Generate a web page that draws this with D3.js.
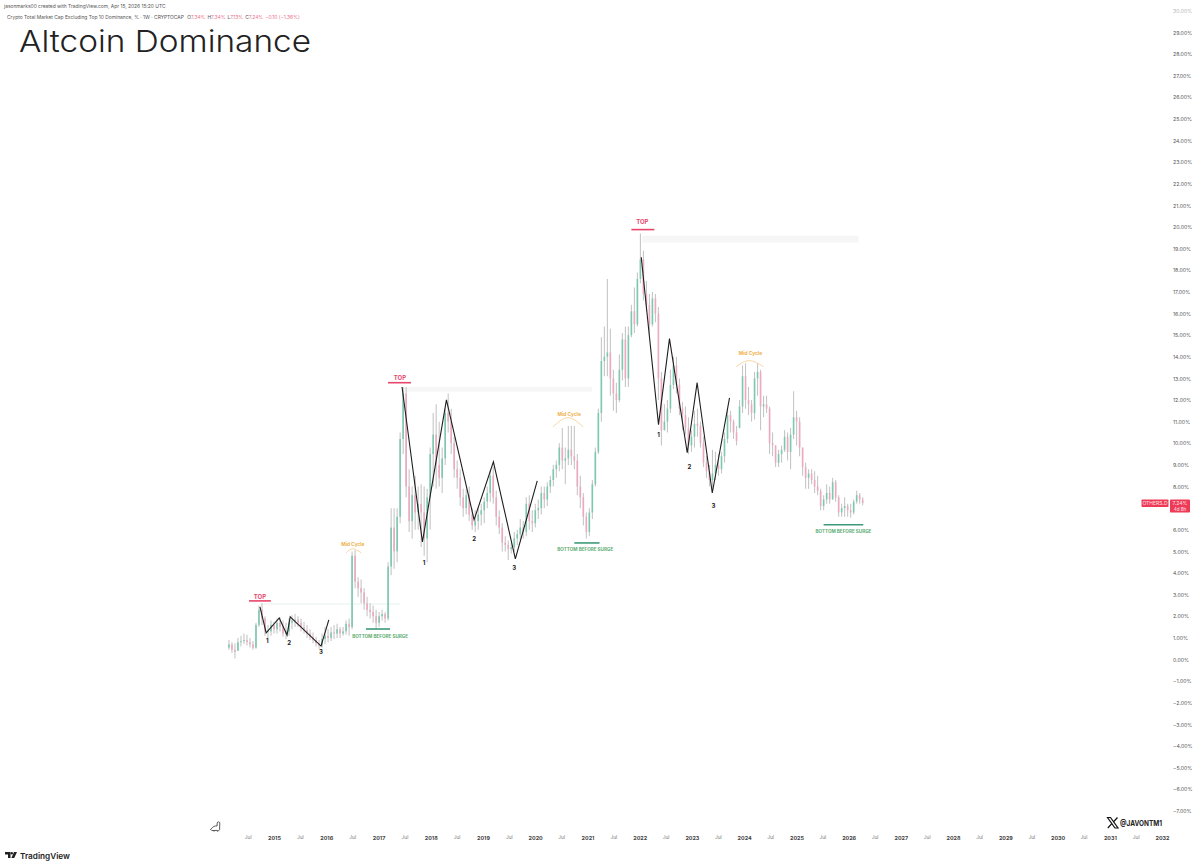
<!DOCTYPE html>
<html lang="en">
<head>
    <meta charset="UTF-8">
    <script src="https://cdnjs.cloudflare.com/ajax/libs/d3/7.8.5/d3.min.js"></script>
    <style>
        html, body { margin: 0; background: #fff; }
        svg { display: block; font-family: Inter, "Noto Sans", sans-serif; }
    </style>
</head>
<body>
    <svg id="chart" width="1200" height="868"></svg>
    <script>
        // one candle per three weeks (% dominance)
        let candleStart = "2014-02-20";
        let candleHighs = [
            0.9, 0.8, 0.75, 1.0, 1.1, 1.2, 1.15, 1.0, 0.85, 1.7,
            2.5, 2.6, 2.0, 1.6, 1.8, 1.75, 1.9, 1.95, 1.8, 1.7,
            1.9, 2.05, 2.1, 2.0, 1.9, 1.75, 1.6, 1.4, 1.25, 1.05,
            0.9, 1.2, 1.5, 1.4, 1.5, 1.6, 1.65, 1.5, 1.5, 1.8,
            1.9, 5.0, 5.05, 3.8, 3.7, 3.3, 2.9, 2.6, 2.5, 2.3,
            2.2, 2.3, 2.2, 4.5, 7.0, 7.0, 7.0, 10.5, 12.6, 12.6,
            8.8, 8.0, 8.5, 8.0, 8.1, 8.0, 7.9, 9.8, 11.4, 11.8,
            11.0, 9.8, 11.6, 12.3, 11.6, 10.3, 9.2, 8.8, 7.9, 7.9,
            8.0, 7.0, 6.9, 7.0, 7.2, 7.5, 8.0, 8.8, 8.9, 7.8,
            6.9, 6.3, 5.7, 5.5, 5.4, 5.9, 6.0, 6.5, 6.4, 7.5,
            7.6, 6.9, 7.2, 7.4, 8.0, 8.0, 8.2, 8.5, 9.0, 9.2,
            10.0, 10.7, 9.8, 10.8, 10.8, 10.8, 9.5, 8.5, 7.7, 6.8,
            7.0, 8.3, 9.8, 11.6, 14.9, 15.4, 17.6, 15.3, 13.4, 12.8,
            14.1, 15.1, 15.4, 15.4, 16.4, 17.2, 17.9, 19.7, 18.9, 17.5,
            16.9, 17.0, 16.9, 16.3, 13.3, 11.8, 12.0, 13.4, 14.0, 14.0,
            13.0, 11.9, 11.7, 11.2, 10.6, 11.5, 11.6, 11.0, 10.3, 9.4,
            9.0, 9.7, 9.6, 9.5, 9.6, 10.5, 11.6, 11.5, 11.1, 10.8,
            12.0, 13.6, 13.7, 12.6, 12.0, 13.3, 13.7, 13.4, 12.2, 12.2,
            11.7, 10.5, 9.9, 9.7, 9.9, 10.6, 10.5, 10.7, 12.4, 11.5,
            11.2, 9.8, 9.1, 8.8, 8.8, 8.7, 8.5, 7.9, 7.6, 8.1,
            8.0, 8.4, 8.3, 7.6, 7.2, 7.5, 7.2, 7.2, 7.4, 7.8,
            7.7, 7.5
        ];
        let candleLows = [
            0.45, 0.3, 0.05, 0.4, 0.6, 0.7, 0.65, 0.55, 0.45, 0.5,
            1.5, 1.6, 1.1, 1.0, 1.1, 1.2, 1.2, 1.3, 1.05, 0.95,
            1.1, 1.4, 1.5, 1.5, 1.3, 1.2, 1.0, 0.9, 0.75, 0.6,
            0.5, 0.55, 0.7, 0.8, 0.85, 0.95, 1.0, 1.0, 1.1, 1.15,
            1.1, 1.4, 3.3, 2.9, 2.6, 2.3, 2.0, 1.9, 1.7, 1.45,
            1.5, 1.8, 1.7, 1.8, 3.9, 4.2, 4.5, 6.3, 9.5, 7.5,
            5.9, 5.6, 6.0, 6.0, 5.2, 4.8, 4.5, 6.0, 8.0, 7.9,
            8.0, 7.7, 9.0, 10.5, 9.5, 8.4, 7.9, 7.1, 6.6, 6.7,
            6.4, 6.0, 5.9, 6.0, 6.2, 6.3, 7.0, 7.3, 7.2, 6.2,
            5.8, 5.0, 5.0, 4.6, 4.9, 5.0, 5.3, 5.5, 5.6, 5.7,
            6.0, 5.9, 6.1, 6.5, 6.7, 7.0, 7.1, 7.7, 8.0, 8.4,
            8.7, 8.8, 8.1, 9.0, 9.0, 8.8, 7.6, 7.0, 6.2, 5.6,
            5.7, 6.5, 8.0, 9.5, 11.0, 13.1, 13.1, 12.2, 11.5, 11.4,
            11.9, 12.9, 12.6, 12.6, 14.9, 15.1, 15.4, 17.4, 16.6, 16.1,
            15.0, 15.4, 15.6, 12.0, 9.9, 10.6, 10.5, 11.4, 12.5, 12.3,
            11.3, 10.6, 10.4, 9.5, 9.6, 9.8, 10.3, 9.8, 8.9, 8.4,
            8.0, 7.9, 8.3, 8.5, 8.6, 9.1, 10.0, 10.5, 10.2, 9.9,
            10.7, 11.4, 11.6, 11.3, 11.0, 11.1, 12.2, 10.6, 11.2, 11.4,
            9.5, 9.4, 8.9, 8.9, 9.1, 9.6, 9.2, 8.8, 10.2, 9.9,
            9.4, 8.5, 7.9, 7.9, 8.1, 7.7, 7.6, 6.9, 6.9, 7.2,
            7.2, 7.4, 7.3, 6.6, 6.6, 6.6, 6.6, 6.55, 6.7, 7.2,
            7.2, 7.13
        ];
        let candleCloses = [
            0.7, 0.45, 0.35, 0.8, 0.85, 0.9, 0.8, 0.7, 0.55, 1.6,
            2.3, 1.9, 1.3, 1.3, 1.6, 1.4, 1.7, 1.5, 1.2, 1.3,
            1.7, 1.8, 1.85, 1.7, 1.5, 1.35, 1.2, 1.05, 0.9, 0.75,
            0.65, 0.95, 1.1, 1.0, 1.25, 1.2, 1.4, 1.2, 1.3, 1.65,
            1.5, 4.8, 3.6, 3.3, 3.1, 2.6, 2.3, 2.2, 2.0, 1.7,
            2.0, 2.1, 1.9, 4.3, 6.1, 5.0, 6.6, 10.2, 12.3, 8.0,
            6.4, 7.6, 6.8, 7.2, 6.8, 5.6, 7.5, 9.5, 10.4, 9.0,
            8.4, 9.3, 11.4, 11.0, 10.0, 8.8, 8.4, 7.5, 7.0, 7.6,
            6.7, 6.2, 6.4, 6.7, 6.9, 7.3, 7.7, 8.5, 7.5, 6.6,
            6.1, 5.4, 5.3, 5.1, 5.2, 5.6, 5.8, 6.1, 5.9, 7.2,
            6.4, 6.3, 6.9, 7.0, 7.7, 7.4, 8.0, 8.3, 8.8, 9.0,
            9.8, 9.2, 9.3, 9.7, 9.4, 9.2, 8.0, 7.5, 6.6, 5.9,
            6.8, 8.1, 9.6, 11.4, 13.8, 14.0, 14.2, 13.0, 12.3, 12.0,
            13.4, 14.8, 13.0, 15.0, 16.1, 15.5, 17.6, 18.5, 16.9, 16.4,
            15.5, 16.7, 16.0, 13.0, 10.6, 11.0, 11.6, 12.7, 13.6, 12.7,
            11.6, 11.3, 10.7, 9.9, 10.3, 10.9, 10.8, 10.0, 9.1, 8.7,
            8.3, 8.6, 9.0, 8.8, 9.4, 10.2, 11.3, 11.0, 10.5, 10.1,
            11.7, 13.1, 12.0, 11.8, 11.4, 13.0, 13.3, 11.7, 11.8, 11.6,
            10.0, 9.9, 9.1, 9.5, 9.7, 10.3, 9.6, 10.4, 11.2, 11.0,
            9.8, 8.9, 8.4, 8.6, 8.3, 8.0, 7.8, 7.1, 7.4, 7.7,
            7.4, 8.2, 7.5, 6.8, 7.0, 7.1, 6.9, 6.8, 7.3, 7.6,
            7.4, 7.24
        ];

        // axis labels
        let percentTicks = d3.range(-7, 31);
        let yearTicks = d3.range(2015, 2033);
        let julyTicks = d3.range(2014, 2032);

        // black swing lines as [year, percent]
        let swingLines = [
            [[2014.73, 2.43], [2014.85, 1.23], [2015.10, 1.92], [2015.25, 1.13], [2015.31, 1.97], [2015.90, 0.62], [2016.05, 1.83]],
            [[2017.45, 12.6], [2017.84, 5.44], [2018.30, 12.01], [2018.83, 6.46], [2019.20, 9.14], [2019.62, 4.65], [2020.04, 8.26]],
            [[2022.03, 18.6], [2022.36, 10.86], [2022.57, 14.84], [2022.91, 9.56], [2023.10, 12.8], [2023.39, 7.7], [2023.72, 12.1]]
        ];
        let swingLabels = [
            [2014.87, 0.90, "1"], [2015.29, 0.81, "2"], [2015.90, 0.39, "3"],
            [2017.87, 4.51, "1"], [2018.83, 5.58, "2"], [2019.60, 4.24, "3"],
            [2022.36, 10.39, "1"], [2022.95, 8.91, "2"], [2023.41, 7.11, "3"]
        ];

        // [year from, year to, percent low, percent high]
        let resistanceBands = [
            [2014.73, 2017.41, 2.53, 2.6, "#eef6f3"],
            [2017.47, 2021.09, 12.38, 12.6, "#f6f6f6"],
            [2022.05, 2026.19, 19.28, 19.6, "#f6f6f6"]
        ];

        // [year from, year to, percent] and [year, percent] for the text
        let topRules = [[2014.52, 2014.94, 2.71], [2017.18, 2017.62, 12.8], [2021.84, 2022.28, 19.88]];
        let topLabels = [[2014.73, 2.94], [2017.41, 13.03], [2022.05, 20.25]];
        let bottomRules = [[2016.76, 2017.22, 1.41], [2020.75, 2021.23, 5.39], [2025.52, 2026.28, 6.23]];
        let bottomLabels = [[2017.03, 1.09], [2020.96, 5.12], [2025.90, 5.95]];
        let midLabels = [[2016.51, 5.35], [2020.65, 11.37], [2024.12, 14.19]];
        let midArcs = [
            [[2016.38, 4.93], [2016.51, 5.12], [2016.67, 4.93]],
            [[2020.34, 10.76], [2020.63, 11.18], [2020.92, 10.76]],
            [[2023.85, 13.54], [2024.10, 13.82], [2024.37, 13.54]]
        ];

        let lastValue = 7.24;

        let yearToDate = y => new Date(Date.UTC(Math.floor(y), 0, 1) + (y - Math.floor(y)) * 365.25 * 864e5);
        let candleDate = i => d3.utcWeek.offset(new Date(candleStart), i * 3);

        let xScale = d3.scaleUtc()
            .domain([yearToDate(2015), yearToDate(2032)])
            .range([274, 1162]);
        let yScale = d3.scaleLinear().domain([0, 20]).range([659.5, 227]);
        let xYear = y => xScale(yearToDate(y));

        let svg = d3.select("#chart");

        // bands go under the candles
        svg.append("g")
            .selectAll("rect")
            .data(resistanceBands)
            .enter()
            .append("rect")
            .attr("x", d => xYear(d[0]))
            .attr("width", d => xYear(d[1]) - xYear(d[0]))
            .attr("y", d => yScale(d[3]))
            .attr("height", d => yScale(d[2]) - yScale(d[3]))
            .attr("fill", d => d[4]);

        let candles = candleCloses.map((close, i) => {
            let prev = i > 0 ? candleCloses[i - 1] : 0.55;
            let open = Math.min(candleHighs[i], Math.max(candleLows[i], prev));
            return {i: i, open: open, close: close, high: candleHighs[i], low: candleLows[i]};
        });

        let candleG = svg.append("g");
        candleG.selectAll("line")
            .data(candles)
            .enter()
            .append("line")
            .attr("x1", d => xScale(candleDate(d.i)))
            .attr("x2", d => xScale(candleDate(d.i)))
            .attr("y1", d => yScale(d.high))
            .attr("y2", d => yScale(d.low))
            .attr("stroke", "#c6c6c6")
            .attr("stroke-width", 1.1);
        candleG.selectAll("rect")
            .data(candles)
            .enter()
            .append("rect")
            .attr("x", d => xScale(candleDate(d.i)) - 0.8)
            .attr("width", 1.6)
            .attr("y", d => yScale(Math.max(d.open, d.close)))
            .attr("height", d => Math.max(0.6, Math.abs(yScale(d.open) - yScale(d.close))))
            .attr("fill", d => d.close >= d.open ? "#7cc9b0" : "#eda9bd");

        // swing lines
        let swingLine = d3.line().x(d => xYear(d[0])).y(d => yScale(d[1]));
        svg.append("g")
            .selectAll("path")
            .data(swingLines)
            .enter()
            .append("path")
            .attr("d", swingLine)
            .attr("fill", "none")
            .attr("stroke", "#1f1f1f")
            .attr("stroke-width", 1.1);

        svg.append("g")
            .selectAll("text")
            .data(swingLabels)
            .enter()
            .append("text")
            .attr("x", d => xYear(d[0]))
            .attr("y", d => yScale(d[1]))
            .attr("dy", 1)
            .attr("text-anchor", "middle")
            .attr("dominant-baseline", "middle")
            .attr("font-size", 6)
            .attr("font-weight", 700)
            .attr("fill", "#222")
            .text(d => d[2]);

        function drawRules(data, color) {
            svg.append("g")
                .selectAll("line")
                .data(data)
                .enter()
                .append("line")
                .attr("x1", d => xYear(d[0]))
                .attr("x2", d => xYear(d[1]))
                .attr("y1", d => yScale(d[2]))
                .attr("y2", d => yScale(d[2]))
                .attr("stroke", color)
                .attr("stroke-width", 1.6);
        }

        function drawLabels(data, text, size, color) {
            svg.append("g")
                .selectAll("text")
                .data(data)
                .enter()
                .append("text")
                .attr("x", d => xYear(d[0]))
                .attr("y", d => yScale(d[1]))
                .attr("dy", 1)
                .attr("text-anchor", "middle")
                .attr("dominant-baseline", "middle")
                .attr("font-size", size)
                .attr("font-weight", 700)
                .attr("fill", color)
                .text(text);
        }

        drawRules(topRules, "#e8456a");
        drawLabels(topLabels, "TOP", 6, "#e8456a");
        drawRules(bottomRules, "#3d9a78");
        drawLabels(bottomLabels, "BOTTOM BEFORE SURGE", 4.6, "#5fae76");
        drawLabels(midLabels, "Mid Cycle", 4.8, "#f0b04c");

        let arcLine = d3.line().x(d => xYear(d[0])).y(d => yScale(d[1])).curve(d3.curveNatural);
        svg.append("g")
            .selectAll("path")
            .data(midArcs)
            .enter()
            .append("path")
            .attr("d", arcLine)
            .attr("fill", "none")
            .attr("stroke", "#f3c47e")
            .attr("stroke-width", 0.7);

        // price axis
        let yAxis = d3.axisRight(yScale)
            .tickValues(percentTicks)
            .tickSize(0)
            .tickPadding(0)
            .tickFormat(d => (d < 0 ? "\u2212" + (-d).toFixed(2) : d.toFixed(2)) + "%");
        let yAxisG = svg.append("g")
            .attr("transform", "translate(1173,0)")
            .call(yAxis);
        yAxisG.select(".domain").remove();
        yAxisG.selectAll("text")
            .attr("font-family", "Inter, sans-serif")
            .attr("font-size", 5.2)
            .attr("fill", "#555")
            .attr("opacity", d => d === 30 ? 0.45 : 1);

        // time axis: years bold, July in grey
        let axisY = 836;
        let xAxisYears = d3.axisBottom(xScale)
            .tickValues(yearTicks.map(yearToDate))
            .tickSize(0)
            .tickPadding(0)
            .tickFormat(d3.utcFormat("%Y"));
        let xAxisJuly = d3.axisBottom(xScale)
            .tickValues(julyTicks.map(y => new Date(Date.UTC(y, 6, 1))))
            .tickSize(0)
            .tickPadding(0)
            .tickFormat(() => "Jul");
        let yearsG = svg.append("g").attr("transform", `translate(0,${axisY})`).call(xAxisYears);
        let julyG = svg.append("g").attr("transform", `translate(0,${axisY})`).call(xAxisJuly);
        yearsG.select(".domain").remove();
        julyG.select(".domain").remove();
        yearsG.selectAll("text")
            .attr("font-family", "Inter, sans-serif")
            .attr("font-size", 5.4)
            .attr("font-weight", 700)
            .attr("fill", "#444");
        julyG.selectAll("text")
            .attr("font-family", "Inter, sans-serif")
            .attr("font-size", 4.8)
            .attr("fill", "#777");

        // last price tags
        let tagY = yScale(lastValue);
        svg.append("rect").attr("x", 1141.5).attr("y", tagY - 3.5).attr("width", 27).attr("height", 7.5).attr("rx", 0.8).attr("fill", "#ef3a57");
        svg.append("rect").attr("x", 1170).attr("y", tagY - 3.5).attr("width", 20).attr("height", 13).attr("rx", 0.8).attr("fill", "#ef3a57");
        svg.append("text").attr("x", 1155).attr("y", tagY + 2).attr("text-anchor", "middle")
            .attr("font-size", 5).attr("fill", "#fde3e7").text("OTHERS.D");
        svg.append("text").attr("x", 1180).attr("y", tagY + 2).attr("text-anchor", "middle")
            .attr("font-size", 5).attr("fill", "#fde3e7").text(lastValue.toFixed(2) + "%");
        svg.append("text").attr("x", 1180).attr("y", tagY + 8).attr("text-anchor", "middle")
            .attr("font-size", 4.6).attr("fill", "#fde3e7").text("4d 8h");

        // header text
        svg.append("text").attr("x", 4).attr("y", 8).attr("font-size", 4.9).attr("fill", "#555")
            .text("jasonmarks00 created with TradingView.com, Apr 15, 2026 15:20 UTC");
        let legend = svg.append("text").attr("x", 7).attr("y", 18.5).attr("font-size", 4.9).attr("fill", "#555");
        legend.append("tspan").text("Crypto Total Market Cap Excluding Top 10 Dominance, % \u00b7 1W \u00b7 CRYPTOCAP  ");
        let ohlc = [["O", "7.34%"], ["H", "7.34%"], ["L", "7.13%"], ["C", "7.24%"]];
        ohlc.forEach(d => {
            legend.append("tspan").attr("dx", 2).text(d[0]);
            legend.append("tspan").attr("fill", "#e8708a").text(d[1]);
        });
        legend.append("tspan").attr("dx", 2).attr("fill", "#e8708a").text("\u22120.10 (\u22121.36%)");

        // title is a wide light face in the original, stretch it to match
        svg.append("text")
            .attr("x", 19)
            .attr("y", 52)
            .attr("font-size", 30)
            .attr("font-weight", 300)
            .attr("fill", "#222")
            .attr("textLength", 292)
            .attr("lengthAdjust", "spacingAndGlyphs")
            .text("Altcoin Dominance");

        // X handle
        let xLogo = svg.append("g").attr("transform", "translate(1107,817)");
        xLogo.append("path").attr("d", "M0.5 0.5H3.5L11 11H8Z").attr("fill", "none").attr("stroke", "#111").attr("stroke-width", 1.2);
        xLogo.append("path").attr("d", "M10.5 0.5L6.3 5M4.8 6.6L0.8 11").attr("fill", "none").attr("stroke", "#111").attr("stroke-width", 1.2);
        svg.append("text").attr("x", 1120).attr("y", 826).attr("font-size", 8.2).attr("font-weight", 700)
            .attr("fill", "#222").attr("textLength", 42).attr("lengthAdjust", "spacingAndGlyphs").text("@JAVONTM1");

        // TradingView mark and name
        let tvLogo = svg.append("g").attr("transform", "translate(5,852)").attr("fill", "#222");
        tvLogo.append("path").attr("d", "M0 0H5.5V6H3V2.4H0Z");
        tvLogo.append("circle").attr("cx", 6.8).attr("cy", 1.2).attr("r", 1.2);
        tvLogo.append("path").attr("d", "M9 0H12L9.2 6H6.4Z");
        svg.append("text").attr("x", 20).attr("y", 858.5).attr("font-size", 8.2).attr("font-weight", 600)
            .attr("fill", "#222").text("TradingView");

        // small dino sketch beside the axis
        let dino = svg.append("g").attr("transform", "translate(210,821)")
            .attr("fill", "none").attr("stroke", "#333").attr("stroke-width", 0.8);
        dino.append("path").attr("d", "M0.5 8.5C3 5.5 5 4.5 7 5L7.2 2C7.4 0.5 9.5 0.5 9.8 1.8L9.6 8.5C9.4 10 7.5 10 7 9.4L3 9.6C2 9.6 1 9.2 0.5 8.5Z");
        dino.append("path").attr("d", "M4 9.6V10.6M7.4 9.6V10.6");
    </script>
</body>
</html>
